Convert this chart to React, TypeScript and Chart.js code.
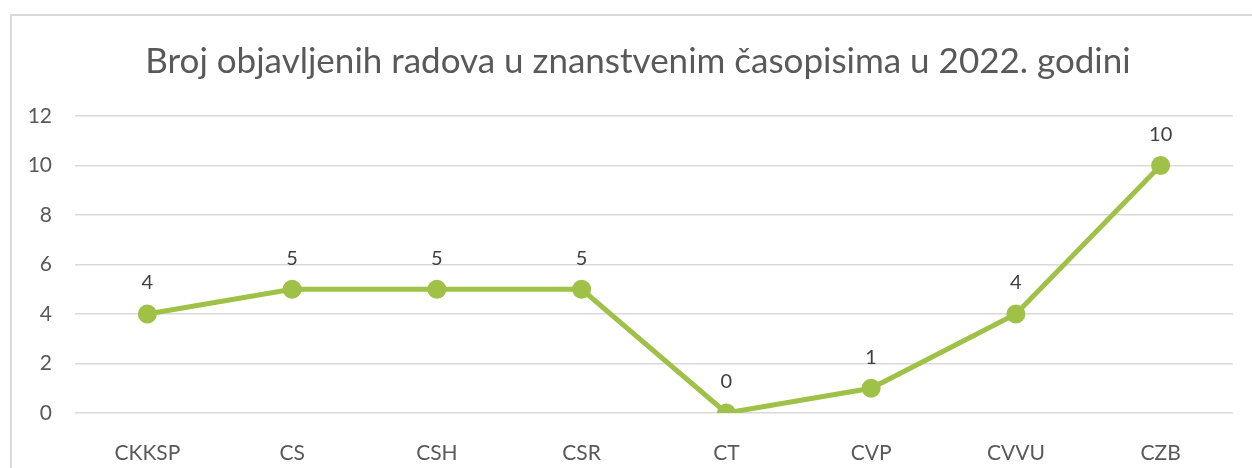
import React, { useEffect, useRef } from "react";
import { Chart, registerables } from "chart.js";

Chart.register(...registerables);

const title = "Broj objavljenih radova u znanstvenim časopisima u 2022. godini";
const categories = ["CKKSP", "CS", "CSH", "CSR", "CT", "CVP", "CVVU", "CZB"];
const values = [4, 5, 5, 5, 0, 1, 4, 10];
const yTicks = [0, 2, 4, 6, 8, 10, 12];

const FONT = "Lato, 'Open Sans', sans-serif";
const LINE = "#9FC147";

const labelPlugin = {
  id: "pointLabels",
  afterDatasetsDraw(chart: any) {
    const ctx = chart.ctx;
    const meta = chart.getDatasetMeta(0);
    ctx.save();
    ctx.font = `20px ${FONT}`;
    ctx.fillStyle = "#404040";
    ctx.textAlign = "center";
    ctx.textBaseline = "middle";
    meta.data.forEach((pt: any, i: number) => {
      ctx.fillText(String(values[i]), pt.x, pt.y - 31);
    });
    ctx.restore();
  },
};

export default function App() {
  const ref = useRef<HTMLCanvasElement | null>(null);
  useEffect(() => {
    if (!ref.current) return;
    const chart = new Chart(ref.current, {
      type: "line",
      data: {
        labels: categories,
        datasets: [
          {
            data: values,
            borderColor: LINE,
            backgroundColor: LINE,
            borderWidth: 5,
            pointRadius: 7,
            pointHoverRadius: 7,
            pointBackgroundColor: LINE,
            pointBorderColor: LINE,
            tension: 0,
          },
        ],
      },
      options: {
        animation: false,
        responsive: false,
        layout: { padding: 0 },
        plugins: {
          legend: { display: false },
          tooltip: { enabled: false },
          title: {
            display: true,
            text: title,
            color: "#595959",
            font: { family: FONT, size: 35, weight: "normal" },
            padding: { top: 41, bottom: 33 },
          },
        },
        scales: {
          x: {
            offset: true,
            grid: { display: false },
            border: { display: false },
            afterFit(scale: any) {
              scale.height = 55;
            },
            ticks: { color: "#595959", font: { family: FONT, size: 21 }, padding: 20, maxRotation: 0, autoSkip: false },
          },
          y: {
            min: 0,
            max: 12,
            afterFit(scale: any) {
              scale.width = 75;
            },
            afterBuildTicks(scale: any) {
              scale.ticks = yTicks.map((v) => ({ value: v }));
            },
            grid: { color: "#D9D9D9", lineWidth: 1.5, drawTicks: false },
            border: { display: false },
            ticks: { color: "#595959", font: { family: FONT, size: 21 }, padding: 23 },
          },
          y2: {
            position: "right",
            min: 0,
            max: 12,
            grid: { display: false, drawTicks: false },
            border: { display: false },
            ticks: { display: false },
            afterFit(scale: any) {
              scale.width = 43;
            },
          },
        },
      },
      plugins: [labelPlugin],
    } as any);
    return () => chart.destroy();
  }, []);

  return (
    <div
      style={{
        position: "fixed",
        left: 0,
        top: 0,
        width: 1252,
        height: 468,
        overflow: "hidden",
        background: "#fff",
      }}
    >
      <div
        style={{
          position: "absolute",
          left: 10,
          top: 14,
          width: 1300,
          height: 500,
          border: "2px solid #D9D9D9",
          boxSizing: "border-box",
        }}
      />
      <canvas ref={ref} width={1276} height={468} style={{ position: "absolute", left: 0, top: 0, width: 1276, height: 468 }} />
    </div>
  );
}
